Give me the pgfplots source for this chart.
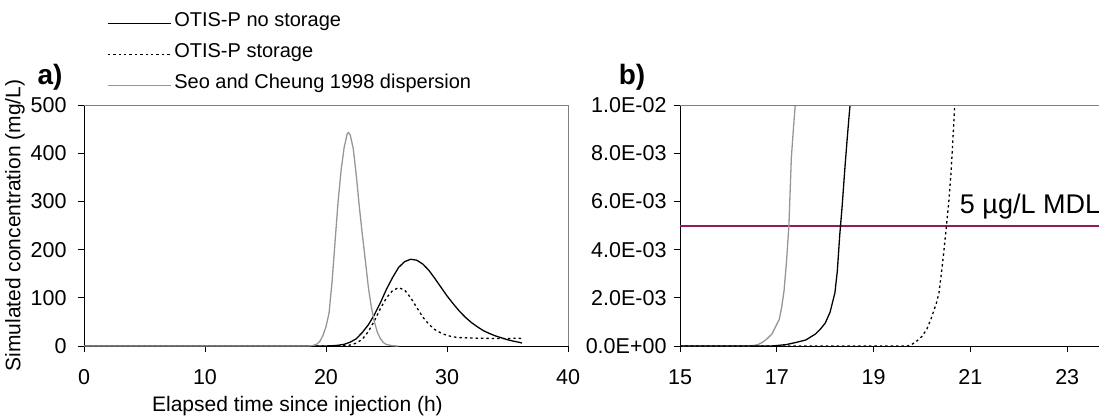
\documentclass[border=0pt]{standalone}
\usepackage{fontspec}
\setmainfont{Liberation Sans}
\usepackage{pgfplots}
\pgfplotsset{compat=1.18}

\definecolor{seogray}{RGB}{150,150,150}
\definecolor{framegray}{RGB}{128,128,128}
\definecolor{mdlcolor}{RGB}{150,25,90}

\newcommand{\tickfont}{\fontsize{21.5}{25}\selectfont}
\newcommand{\labfont}{\fontsize{21}{25}\selectfont}

\pgfplotsset{
  panel/.style={
    scale only axis, width=484pt, height=241pt,
    anchor=south west, clip mode=individual,
    axis lines*=left, axis line style={black, line width=0.9pt},
    tick align=outside, major tick length=6pt,
    tick style={black, line width=0.9pt},
    minor tick num=0,
    tick label style={font=\tickfont},
    xticklabel style={yshift=-14pt},
    /pgf/number format/assume math mode=true,
    every axis plot/.append style={line width=1.3pt},
  },
  nostor/.style={black, solid},
  stor/.style={black, dash pattern=on 2.4pt off 3pt},
  seo/.style={seogray, solid},
}

\begin{document}
\begin{tikzpicture}[x=1pt,y=1pt]

% ---------- a) full breakthrough curves ----------
\begin{axis}[panel, at={(84pt,70pt)},
  xmin=0, xmax=40, ymin=0, ymax=500,
  xtick={0,10,20,30,40}, ytick={0,100,200,300,400,500},
  yticklabel style={xshift=-8pt},
  xlabel={Elapsed time since injection (h)},
  ylabel={Simulated concentration (mg/L)},
  label style={font=\labfont},
  xlabel style={at={(axis description cs:0.441,-0.2726)}, anchor=base},
  ylabel style={at={(axis description cs:-0.1426,0.5)}, anchor=center},
  legend style={at={(axis description cs:0.0475,1.39)}, anchor=north west,
    draw=none, fill=none, inner sep=0pt, row sep=11pt,
    font=\fontsize{20}{24}\selectfont,
    nodes={inner xsep=3pt, inner ysep=1pt, text height=14pt, text depth=4pt},
    cells={anchor=west}},
  legend image code/.code={\draw[#1, line width=1.1pt] (0pt,-2pt) -- (63pt,-2pt);},
]
\addplot[nostor] coordinates {
 (0,0) (20,0) (20.5,0.5) (21,1.5) (21.5,3.5) (22,8) (22.5,15) (23,28)
 (23.5,44) (24,65) (24.5,90) (25,118) (25.5,142) (26,163) (26.5,175)
 (27,180) (27.5,178) (28,170) (28.5,157) (29,140) (29.5,122) (30,104)
 (30.5,88) (31,73) (31.5,60) (32,49) (32.5,40) (33,32) (33.5,26) (34,21)
 (34.5,17) (35,13) (35.5,10) (36,7.5) (36.2,6)
};
\addlegendentry{OTIS-P no storage}
\addplot[stor] coordinates {
 (0,0) (21,0) (21.5,0.5) (22,2) (22.5,6) (23,14) (23.5,30) (24,52)
 (24.5,78) (25,100) (25.5,115) (26,121) (26.5,116) (27,100) (27.5,80)
 (28,60) (28.5,45) (29,34) (29.5,27) (30,22) (30.5,19) (31,17.5)
 (32,16.5) (33,16) (34,15.5) (35,15.5) (35.5,16) (36,16) (36.2,15)
};
\addlegendentry{OTIS-P storage}
\addplot[seo] coordinates {
 (0,0) (18.5,0) (18.75,0.5) (19,1.5) (19.25,4) (19.5,10) (19.75,22)
 (20,40) (20.25,68) (20.5,133) (20.75,217) (21,300) (21.25,365)
 (21.5,412) (21.75,440) (21.85,443) (22,438) (22.25,410) (22.5,355)
 (22.75,290) (23,232) (23.25,178) (23.5,122) (23.75,80) (24,50)
 (24.25,28) (24.5,15) (24.75,7) (25,3) (25.5,0.5) (26,0)
};
\addlegendentry{Seo and Cheung 1998 dispersion}
\draw[framegray, line width=0.9pt] (rel axis cs:0,1) -- (rel axis cs:1,1) -- (rel axis cs:1,0);
\end{axis}

% ---------- b) leading edge near the detection limit ----------
\begin{axis}[panel, at={(680pt,70pt)},
  xmin=15, xmax=25, ymin=0, ymax=0.01,
  xtick={15,17,19,21,23},
  ytick={0,0.002,0.004,0.006,0.008,0.01},
  yticklabels={0.0E+00,2.0E-03,4.0E-03,6.0E-03,8.0E-03,1.0E-02},
  yticklabel style={xshift=-4pt},
  scaled y ticks=false,
]
% method detection limit, 5 ug/L = 0.005 mg/L
\addplot[color=mdlcolor, solid, line width=2pt] coordinates {(15,0.005) (25,0.005)};
\addplot[seo] coordinates {
 (15,0) (16.45,0) (16.6,0.00005) (16.7,0.00015) (16.8,0.0003) (16.9,0.0005)
 (17.0,0.0009) (17.05,0.0011) (17.1,0.0016) (17.15,0.0023) (17.2,0.0035)
 (17.25,0.0050) (17.3,0.0078) (17.35,0.0092) (17.4,0.0105) (17.5,0.014)
};
\addplot[nostor] coordinates {
 (15,0) (16.9,0) (17.0,0.00002) (17.2,0.00006) (17.4,0.00015) (17.6,0.00025)
 (17.8,0.0005) (17.9,0.0007) (18.0,0.00095) (18.1,0.0014) (18.2,0.0022)
 (18.25,0.0031) (18.3,0.0046) (18.35,0.0058) (18.4,0.0072) (18.45,0.0085)
 (18.5,0.0097) (18.55,0.0108) (18.6,0.012)
};
\addplot[stor] coordinates {
 (15,0) (19.7,0) (19.8,0.00008) (19.9,0.00022) (20.0,0.0004) (20.1,0.0007)
 (20.2,0.0012) (20.3,0.0018) (20.35,0.0022) (20.4,0.0030) (20.45,0.0039)
 (20.5,0.0049) (20.55,0.0059) (20.6,0.0072) (20.65,0.0090) (20.7,0.011)
 (20.75,0.013)
};
\node[anchor=base west, inner sep=0pt, font=\fontsize{27}{32}\selectfont]
  at (axis cs:20.78,0.0055) {5 µg/L MDL};
\draw[framegray, line width=0.9pt] (rel axis cs:0,1) -- (rel axis cs:1,1);
\end{axis}

\node[font=\bfseries\fontsize{28}{32}\selectfont] at (50pt,339pt) {a)};
\node[font=\bfseries\fontsize{28}{32}\selectfont] at (632pt,339pt) {b)};

\pgfresetboundingbox
\useasboundingbox (0pt,0pt) rectangle (1099pt,416pt);
\end{tikzpicture}
\end{document}
